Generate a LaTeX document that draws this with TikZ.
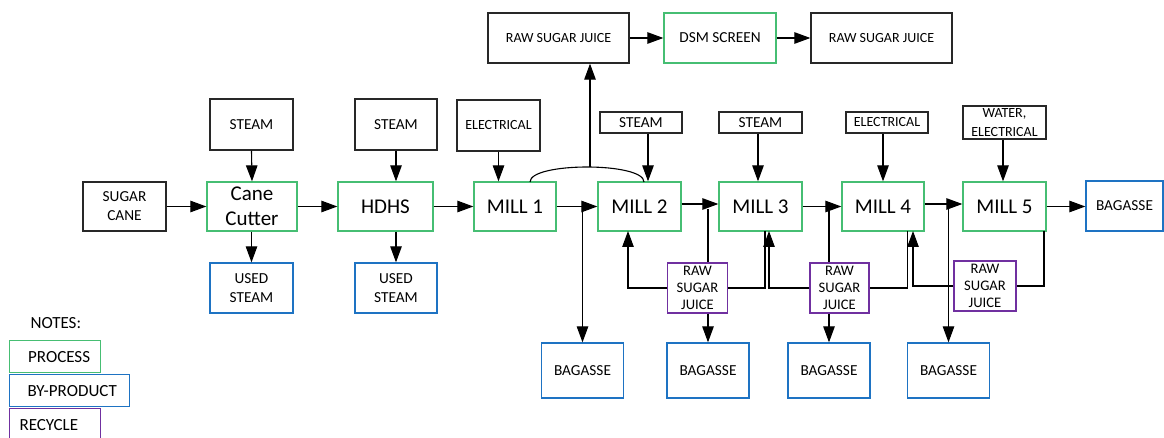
\documentclass[tikz,border=0pt]{standalone}
\usepackage{fontspec}
\setmainfont{Carlito}
\usetikzlibrary{arrows.meta}
\definecolor{pgreen}{RGB}{70,190,115}
\definecolor{pblue}{RGB}{30,115,195}
\definecolor{ppurple}{RGB}{112,48,160}
\definecolor{bk}{RGB}{40,40,40}
\tikzset{
  box/.style={draw, line width=1.3pt, align=center, inner sep=1pt, text=black},
  blk/.style={box, draw=bk},
  proc/.style={box, draw=pgreen},
  byp/.style={box, draw=pblue},
  recy/.style={box, draw=ppurple},
  big/.style={font=\fontsize{21}{25}\selectfont},
  med/.style={font=\fontsize{15.3}{19}\selectfont},
  sml/.style={font=\fontsize{14}{18.5}\selectfont},
  rsml/.style={font=\fontsize{14.6}{16.7}\selectfont},
  leg/.style={font=\fontsize{17}{20}\selectfont},
  con/.style={line width=1.1pt, draw=black},
  arr/.style={con, -{Triangle[length=16pt,width=11.5pt]}},
}
\begin{document}
\begin{tikzpicture}[x=1pt,y=-1pt]
\useasboundingbox (0,0) rectangle (1164,438);
% input / steam boxes
\node[blk,med,minimum width=83pt,minimum height=49pt] (sugar) at (124.5,206.5) {SUGAR\\CANE};
\node[blk,med,minimum width=83pt,minimum height=51pt] (steam1) at (251.5,124.5) {STEAM};
\node[blk,med,minimum width=82pt,minimum height=51pt] (steam2) at (396,124.5) {STEAM};
\node[blk,sml,minimum width=83pt,minimum height=51pt] (elec1) at (498.5,125.5) {ELECTRICAL};
\node[blk,med,minimum width=82pt,minimum height=21pt] (steam3) at (641,122.5) {STEAM};
\node[blk,med,minimum width=83pt,minimum height=21pt] (steam4) at (760.5,122.5) {STEAM};
\node[blk,sml,minimum width=82pt,minimum height=21pt] (elec2) at (887,122.5) {ELECTRICAL};
\node[blk,sml,minimum width=83pt,minimum height=33pt] (water) at (1004.5,122.5) {WATER,\\ELECTRICAL};
% top row
\node[blk,sml,minimum width=141pt,minimum height=50pt] (rsj1) at (558.5,38) {RAW SUGAR JUICE};
\node[proc,med,minimum width=112pt,minimum height=50pt] (dsm) at (720,38) {DSM SCREEN};
\node[blk,sml,minimum width=141pt,minimum height=50pt] (rsj2) at (881.5,38) {RAW SUGAR JUICE};
% process
\node[proc,big,minimum width=90pt,minimum height=49pt] (cutter) at (252,206.5) {Cane\\Cutter};
\node[proc,big,minimum width=95pt,minimum height=49pt] (hdhs) at (385.5,206.5) {HDHS};
\node[proc,big,minimum width=82pt,minimum height=49pt] (mill1) at (515,206.5) {MILL 1};
\node[proc,big,minimum width=83pt,minimum height=49pt] (mill2) at (639.5,206.5) {MILL 2};
\node[proc,big,minimum width=83pt,minimum height=49pt] (mill3) at (760.5,206.5) {MILL 3};
\node[proc,big,minimum width=82pt,minimum height=49pt] (mill4) at (883,206.5) {MILL 4};
\node[proc,big,minimum width=83pt,minimum height=49pt] (mill5) at (1004.5,206.5) {MILL 5};
% by-products
\node[byp,med,minimum width=83pt,minimum height=50pt] (used1) at (251.5,288) {USED\\STEAM};
\node[byp,med,minimum width=82pt,minimum height=50pt] (used2) at (396,288) {USED\\STEAM};
\node[byp,med,minimum width=77pt,minimum height=50pt] (bag5) at (1124.5,206) {BAGASSE};
\node[byp,med,minimum width=82pt,minimum height=55pt] (bag1) at (582.5,370.5) {BAGASSE};
\node[byp,med,minimum width=82pt,minimum height=55pt] (bag2) at (708,370.5) {BAGASSE};
\node[byp,med,minimum width=82pt,minimum height=55pt] (bag3) at (829,370.5) {BAGASSE};
\node[byp,med,minimum width=82pt,minimum height=55pt] (bag4) at (948.5,370.5) {BAGASSE};
% recycle
\node[recy,rsml,minimum width=60pt,minimum height=50pt] (rec1) at (697.5,288) {RAW\\SUGAR\\JUICE};
\node[recy,rsml,minimum width=59pt,minimum height=50pt] (rec2) at (839.5,288) {RAW\\SUGAR\\JUICE};
\node[recy,rsml,minimum width=62pt,minimum height=50pt] (rec3) at (985,286) {RAW\\SUGAR\\JUICE};

% main flow
\draw[arr] (sugar.east) -- (cutter.west);
\draw[arr] (cutter.east) -- (hdhs.west);
\draw[arr] (hdhs.east) -- (mill1.west);
\draw[arr] (mill1.east) -- (mill2.west);
\draw[arr] ([yshift=2.5pt]mill2.east) -- ([yshift=2.5pt]mill3.west);
\draw[arr] (mill3.east) -- (mill4.west);
\draw[arr] ([yshift=2.5pt]mill4.east) -- ([yshift=2.5pt]mill5.west);
\draw[arr] (mill5.east) -- (mill5.east -| bag5.west);
% supplies
\draw[arr] (steam1.south) -- (cutter.north);
\draw[arr] (steam2.south) -- (steam2.south |- hdhs.north);
\draw[arr] (elec1.south) -- (elec1.south |- mill1.north);
\draw[arr] ([xshift=7pt]steam3.south) -- ([xshift=7pt]steam3.south |- mill2.north);
\draw[arr] ([xshift=-2.5pt]steam4.south) -- ([xshift=-2.5pt]steam4.south |- mill3.north);
\draw[arr] ([xshift=-4pt]elec2.south) -- ([xshift=-4pt]elec2.south |- mill4.north);
\draw[arr] ([xshift=-1.5pt]water.south) -- ([xshift=-1.5pt]water.south |- mill5.north);
% used steam
\draw[arr] (cutter.south -| used1.north) -- (used1.north);
\draw[arr] (hdhs.south -| used2.north) -- (used2.north);
% arc and juice to top
\coordinate (a1) at (530,182);
\coordinate (a2) at (644,182);
\coordinate (ap) at (590,167.2);
\draw[con] (a1) .. controls (530,162) and (644,162) .. (a2);
\draw[arr] (ap) -- (ap |- rsj1.south);
\draw[arr] (rsj1.east) -- (dsm.west);
\draw[arr] (dsm.east) -- (rsj2.west);
% bagasse branches
\coordinate (b1) at (582.5,206.5);
\coordinate (b2) at (708,209);
\coordinate (b3) at (829,206.5);
\coordinate (b4) at (948.5,209);
\draw[arr] (b1) -- (bag1.north);
\draw[con] (b2) -- (b2 |- rec1.north);
\draw[arr] (b2 |- rec1.south) -- (bag2.north);
\draw[con] (b3) -- (b3 |- rec2.north);
\draw[arr] (b3 |- rec2.south) -- (bag3.north);
\draw[arr] (b4) -- (bag4.north);
% recycle loops
\coordinate (m3o) at (765,231);
\coordinate (m2i) at (628,231);
\draw[con] (m3o) |- (rec1.east);
\draw[arr] (rec1.west) -| (m2i);
\coordinate (m4o) at (907.5,231);
\coordinate (m3i) at (769,231);
\draw[con] (m4o) |- (rec2.east);
\draw[arr] (rec2.west) -| (m3i);
\coordinate (m5o) at (1044,231);
\coordinate (m4i) at (913,231);
\draw[con] (m5o) |- (rec3.east);
\draw[arr] (rec3.west) -| (m4i);
% legend
\node[leg,anchor=west] (notes) at (27,323) {NOTES:};
\node[proc,leg,minimum width=91pt,minimum height=32pt,anchor=north west,text width=80pt,align=left,inner sep=0pt] (lp) at (9,340) {\hspace*{13pt}PROCESS};
\node[byp,leg,minimum width=120pt,minimum height=32pt,anchor=north west,text width=110pt,align=left,inner sep=0pt] (lb) at (9,374) {\hspace*{13pt}BY-PRODUCT};
\node[recy,leg,minimum width=91pt,minimum height=37pt,anchor=north west,text width=80pt,align=left,inner sep=0pt,text depth=0pt] (lr) at (9,408) {};
\node[leg,anchor=west] (lrt) at (16,425) {RECYCLE};
\end{tikzpicture}
\end{document}
